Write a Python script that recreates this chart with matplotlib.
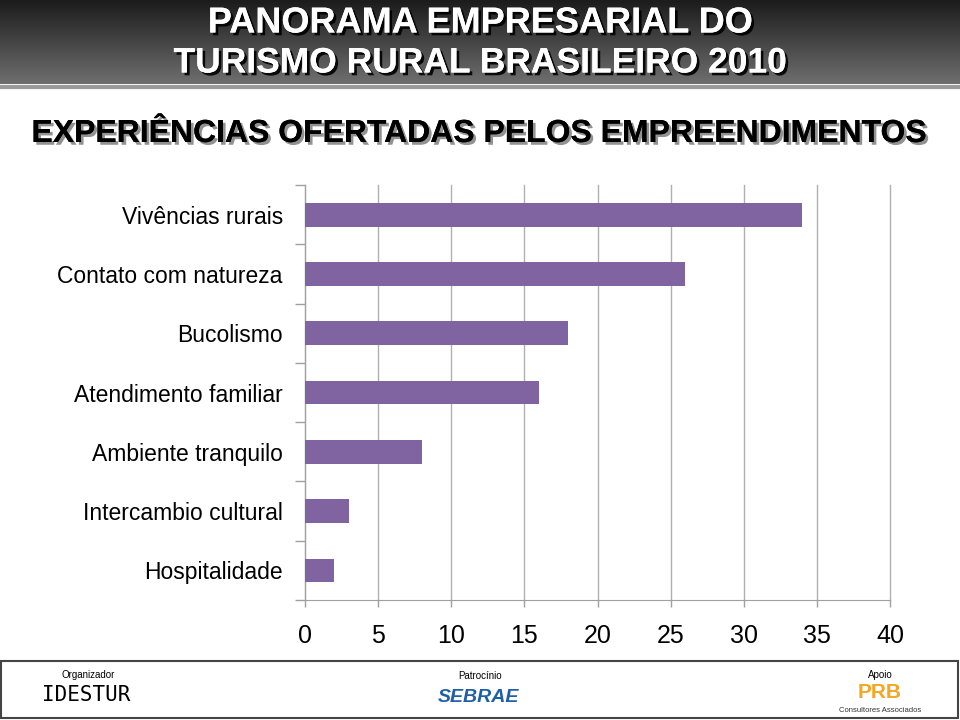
import matplotlib
matplotlib.use("Agg")
import matplotlib.pyplot as plt
import matplotlib.patheffects as pe
from matplotlib.patches import Rectangle
import numpy as np

categories = ["Vivências rurais", "Contato com natureza", "Bucolismo",
              "Atendimento familiar", "Ambiente tranquilo",
              "Intercambio cultural", "Hospitalidade"]
values = [34, 26, 18, 16, 8, 3, 2]
xticks = [0, 5, 10, 15, 20, 25, 30, 35, 40]

title_lines = ["PANORAMA EMPRESARIAL DO", "TURISMO RURAL BRASILEIRO 2010"]
subtitle = "EXPERIÊNCIAS OFERTADAS PELOS EMPREENDIMENTOS"

plt.rcParams['font.family'] = ['Liberation Sans', 'DejaVu Sans']

fig = plt.figure(figsize=(9.6, 7.2), dpi=100)
fig.patch.set_facecolor('white')

# header band with gradient
hdr = fig.add_axes([0, 1 - 84/720, 1, 84/720])
grad = np.linspace(0, 1, 100).reshape(-1, 1)
hdr.imshow(grad, aspect='auto', cmap=matplotlib.colors.LinearSegmentedColormap.from_list(
    'h', ['#1c1c1c', '#6e6e6e']), extent=[0, 1, 0, 1])
hdr.axis('off')
fig.add_artist(plt.Line2D([0, 1], [1 - 87/720, 1 - 87/720], color='#9a9a9a', lw=3))

shadow = [pe.withSimplePatchShadow(offset=(2, -2), shadow_rgbFace='black', alpha=0.9), pe.Normal()]
fig.text(0.5, 1 - 23/720, title_lines[0], ha='center', va='center', color='white',
         fontsize=26, fontweight='bold', path_effects=shadow)
fig.text(0.5, 1 - 63/720, title_lines[1], ha='center', va='center', color='white',
         fontsize=25.5, fontweight='bold', path_effects=shadow)

shadow2 = [pe.withSimplePatchShadow(offset=(2, -2), shadow_rgbFace='#777777', alpha=0.8), pe.Normal()]
fig.text(0.5, 1 - 134/720, subtitle, ha='center', va='center', color='black',
         fontsize=23, fontweight='bold', path_effects=shadow2)

# chart
ax = fig.add_axes([305/960, 1 - 600/720, 585/960, 415/720])
y = np.arange(len(categories))
ax.barh(y, values, height=0.4, color='#8064a2', zorder=3)
ax.set_ylim(len(categories) - 0.5, -0.5)
ax.set_xlim(0, 40)
ax.set_xticks(xticks)
ax.set_xticklabels([str(t) for t in xticks], fontsize=18)
ax.set_yticks(y)
ax.set_yticklabels(categories, fontsize=16.5)
ax.tick_params(axis='y', length=0, pad=16)
ax.tick_params(axis='x', length=5, color='#a0a0a0', width=1, direction='out', pad=12)
ax.set_yticks(np.arange(-0.5, len(categories)), minor=True)
ax.tick_params(axis='y', which='minor', length=7, color='#a0a0a0', width=1)
ax.xaxis.grid(True, color='#b0b0b0', lw=1, zorder=0)
for gl in ax.get_xgridlines():
    gl.set_clip_on(False)
for s in ['top', 'right']:
    ax.spines[s].set_visible(False)
ax.spines['left'].set_color('#a0a0a0')
ax.spines['bottom'].set_color('#a0a0a0')

# footer
fig.add_artist(Rectangle((1/960, 2/720), 957/960, 57/720, transform=fig.transFigure,
                         fill=False, edgecolor='#444444', lw=1.5))
fig.text(88/960, 1 - 675/720, "Organizador", ha='center', va='center', fontsize=7)
fig.text(86/960, 1 - 695/720, "IDESTUR", ha='center', va='center', fontsize=15,
         family=['DejaVu Sans Mono'], color='black')
fig.text(480/960, 1 - 676/720, "Patrocínio", ha='center', va='center', fontsize=7)
fig.text(478/960, 1 - 697/720, "SEBRAE", ha='center', va='center', fontsize=14,
         fontweight='bold', style='italic', color='#1f5fa8')
fig.text(880/960, 1 - 675/720, "Apoio", ha='center', va='center', fontsize=7)
fig.text(880/960, 1 - 693/720, "PRB", ha='center', va='center', fontsize=15,
         fontweight='bold', color='#f5a623')
fig.text(880/960, 1 - 711/720, "Consultores Associados", ha='center', va='center', fontsize=5.5,
         color='#333333')

fig.savefig("out.png", dpi=100)
